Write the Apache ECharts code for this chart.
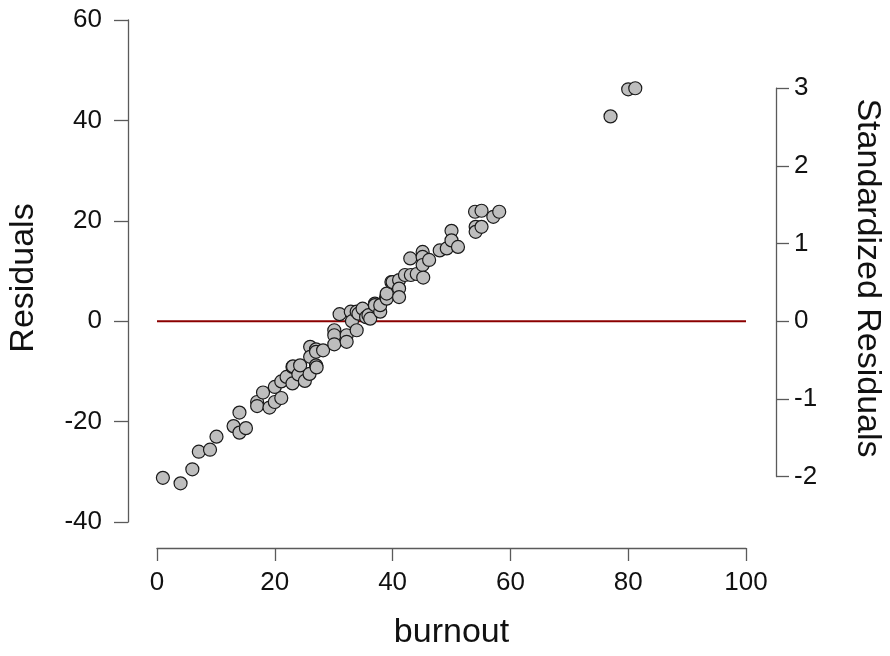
<!DOCTYPE html>
<html>
<head>
<meta charset="utf-8">
<script src="https://cdn.jsdelivr.net/npm/echarts@6/dist/echarts.min.js"></script>
<style>
  html, body { margin: 0; padding: 0; background: #fff; }
  #chart { width: 890px; height: 656px; }
</style>
</head>
<body>
<div id="chart"></div>
<script>
// Residuals vs. predictor (burnout)
const burnout = [
  1.0, 4.0, 6.0, 7.1, 9.0, 10.1, 13.0, 14.0, 14.0, 15.1,
  17.0, 17.0, 18.0, 19.1, 20.0, 20.0, 21.1, 21.1, 22.0, 23.0,
  23.0, 23.1, 24.0, 24.3, 25.1, 25.9, 26.0, 26.0, 27.0, 27.0,
  27.0, 27.1, 28.2, 30.1, 30.1, 30.1, 31.0, 32.2, 32.2, 32.9,
  33.1, 33.9, 33.9, 34.2, 34.9, 35.5, 35.9, 36.2, 37.0, 37.0,
  37.9, 37.9, 38.9, 39.0, 39.0, 39.8, 40.0, 41.1, 41.1, 41.1,
  42.1, 43.0, 43.1, 44.1, 45.1, 45.1, 45.1, 45.2, 46.2, 48.0,
  49.2, 50.0, 50.0, 51.1, 54.0, 54.1, 54.1, 55.1, 55.1, 57.1,
  58.1, 77.0, 80.0, 81.2
];
const residuals = [
  -31.2, -32.3, -29.5, -26.0, -25.6, -23.0, -20.9, -22.2, -18.2, -21.3,
  -16.1, -16.9, -14.2, -17.2, -16.1, -13.1, -15.3, -12.0, -11.1, -12.4,
  -9.1, -9.0, -10.6, -8.8, -11.9, -10.5, -5.1, -7.1, -5.6, -8.8,
  -6.1, -9.2, -5.8, -1.8, -2.8, -4.6, 1.4, -2.8, -4.1, 1.9,
  0.0, -1.8, 1.9, 1.5, 2.5, 0.8, 1.2, 0.5, 3.5, 3.2,
  1.9, 3.2, 4.8, 4.5, 5.5, 7.8, 7.8, 8.2, 6.5, 4.8,
  9.2, 12.5, 9.2, 9.4, 13.8, 12.8, 11.2, 8.7, 12.2, 14.1,
  14.5, 18.0, 16.1, 14.8, 21.8, 18.8, 17.8, 22.0, 18.8, 20.8,
  21.8, 40.8, 46.2, 46.4
];

const xTicks = [0, 20, 40, 60, 80, 100];
const residualTicks = [-40, -20, 0, 20, 40, 60];
const standardizedTicks = [-2, -1, 0, 1, 2, 3];
const residualSD = 15.48;      // one standardized unit in residual units
const zeroLine = [[0, 0], [100, 0]];

// plot area in pixels
const plotLeft = 157, plotRight = 746, plotTop = 20, plotBottom = 522;
const W = 890, H = 656;
const rMin = residualTicks[0], rMax = residualTicks[residualTicks.length - 1];
const pxPerUnit = (plotBottom - plotTop) / (rMax - rMin);
const yPix = v => plotTop + (rMax - v) * pxPerUnit;
const stdTop = yPix(standardizedTicks[standardizedTicks.length - 1] * residualSD);
const stdBottom = yPix(standardizedTicks[0] * residualSD);

const axisGray = '#5a5a5a';
const font = 'Liberation Sans, Arial, sans-serif';
const tickFont = 26;
const titleFont = 34;
const titleY = 278;

const chart = echarts.init(document.getElementById('chart'), null, { renderer: 'canvas' });

chart.setOption({
  backgroundColor: '#ffffff',
  animation: false,
  grid: [
    { left: plotLeft, right: W - plotRight, top: plotTop, bottom: H - plotBottom },
    { left: plotLeft, right: W - plotRight, top: stdTop, bottom: H - stdBottom }
  ],
  xAxis: [
    {
      gridIndex: 0, type: 'value',
      min: xTicks[0], max: xTicks[xTicks.length - 1], interval: 20,
      offset: 26,
      axisLine: { show: true, onZero: false, lineStyle: { color: axisGray, width: 1.3 } },
      axisTick: { show: true, length: 13, lineStyle: { color: axisGray, width: 1.3 } },
      axisLabel: { fontSize: tickFont, color: '#111', margin: 22, fontFamily: font },
      splitLine: { show: false },
      name: 'burnout', nameLocation: 'middle', nameGap: 68,
      nameTextStyle: { fontSize: titleFont, color: '#111', fontFamily: font }
    },
    { gridIndex: 1, type: 'value', min: 0, max: 100, show: false }
  ],
  yAxis: [
    {
      gridIndex: 0, type: 'value',
      min: rMin, max: rMax, interval: 20,
      offset: 29,
      axisLine: { show: true, onZero: false, lineStyle: { color: axisGray, width: 1.3 } },
      axisTick: { show: true, length: 14, lineStyle: { color: axisGray, width: 1.3 } },
      axisLabel: { fontSize: tickFont, color: '#111', margin: 26, fontFamily: font },
      splitLine: { show: false }
    },
    {
      gridIndex: 1, type: 'value', position: 'right',
      min: standardizedTicks[0], max: standardizedTicks[standardizedTicks.length - 1], interval: 1,
      offset: 30,
      axisLine: { show: true, onZero: false, lineStyle: { color: axisGray, width: 1.3 } },
      axisTick: { show: true, length: 13, lineStyle: { color: axisGray, width: 1.3 } },
      axisLabel: { fontSize: tickFont, color: '#111', margin: 18, fontFamily: font },
      splitLine: { show: false }
    }
  ],
  graphic: [
    {
      type: 'text', x: 24, y: titleY, rotation: Math.PI / 2,
      style: { text: 'Residuals', font: titleFont + 'px ' + font, fill: '#111', textAlign: 'center', textVerticalAlign: 'middle' }
    },
    {
      type: 'text', x: 867, y: titleY, rotation: -Math.PI / 2,
      style: { text: 'Standardized Residuals', font: titleFont + 'px ' + font, fill: '#111', textAlign: 'center', textVerticalAlign: 'middle' }
    }
  ],
  series: [
    {
      type: 'line', xAxisIndex: 0, yAxisIndex: 0,
      data: zeroLine, symbol: 'none', z: 1,
      lineStyle: { color: '#8b0000', width: 2 }
    },
    {
      type: 'scatter', xAxisIndex: 0, yAxisIndex: 0, z: 3,
      data: burnout.map((b, i) => [b, residuals[i]]),
      symbol: 'circle', symbolSize: 13,
      itemStyle: { color: '#bebebe', borderColor: '#1a1a1a', borderWidth: 1.2, opacity: 1 }
    }
  ]
});
</script>
</body>
</html>
